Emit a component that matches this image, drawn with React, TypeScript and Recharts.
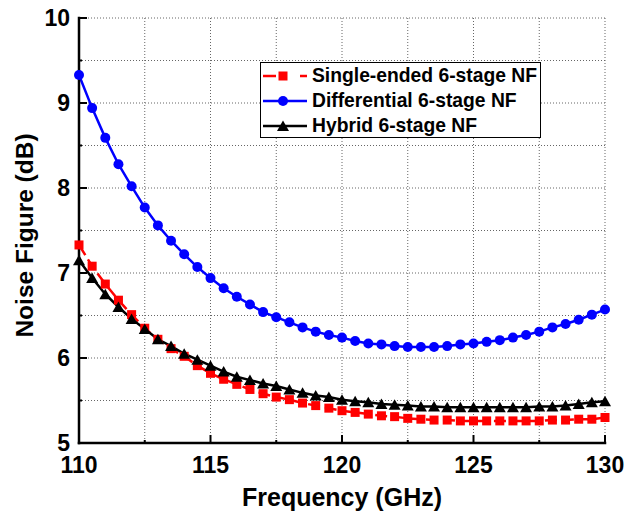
import React from 'react';
import { LineChart, Line, XAxis, YAxis, CartesianGrid, Legend } from 'recharts';

const frequency = [
  110, 110.5, 111, 111.5, 112, 112.5, 113, 113.5, 114, 114.5,
  115, 115.5, 116, 116.5, 117, 117.5, 118, 118.5, 119, 119.5,
  120, 120.5, 121, 121.5, 122, 122.5, 123, 123.5, 124, 124.5,
  125, 125.5, 126, 126.5, 127, 127.5, 128, 128.5, 129, 129.5, 130,
];

const singleEnded = [
  7.33, 7.08, 6.87, 6.68, 6.51, 6.35, 6.22, 6.11, 6.02, 5.91,
  5.82, 5.75, 5.69, 5.63, 5.58, 5.54, 5.51, 5.47, 5.44, 5.41,
  5.38, 5.36, 5.34, 5.32, 5.31, 5.29, 5.28, 5.27, 5.27, 5.26,
  5.26, 5.26, 5.26, 5.26, 5.26, 5.26, 5.27, 5.27, 5.28, 5.28, 5.30,
];

const differential = [
  9.33, 8.94, 8.59, 8.28, 8.02, 7.77, 7.56, 7.38, 7.22, 7.07,
  6.94, 6.82, 6.72, 6.63, 6.54, 6.48, 6.42, 6.36, 6.31, 6.27,
  6.24, 6.20, 6.17, 6.16, 6.14, 6.13, 6.13, 6.13, 6.14, 6.16,
  6.17, 6.19, 6.21, 6.24, 6.27, 6.31, 6.36, 6.40, 6.45, 6.51, 6.57,
];

const hybrid = [
  7.15, 6.94, 6.75, 6.60, 6.46, 6.34, 6.22, 6.14, 6.05, 5.98,
  5.91, 5.84, 5.78, 5.74, 5.70, 5.67, 5.63, 5.59, 5.56, 5.54,
  5.51, 5.49, 5.48, 5.46, 5.45, 5.44, 5.43, 5.43, 5.42, 5.42,
  5.42, 5.42, 5.42, 5.42, 5.42, 5.43, 5.43, 5.44, 5.46, 5.48, 5.49,
];

const xTicks = [110, 112.5, 115, 117.5, 120, 122.5, 125, 127.5, 130];
const yTicks = [5, 5.5, 6, 6.5, 7, 7.5, 8, 8.5, 9, 9.5, 10];

const seriesNames = ['Single-ended 6-stage NF', 'Differential 6-stage NF', 'Hybrid 6-stage NF'];
const xTitle = 'Frequency (GHz)';
const yTitle = 'Noise Figure (dB)';

const data = frequency.map((f, i) => ({
  f,
  se: singleEnded[i],
  diff: differential[i],
  hyb: hybrid[i],
}));

const FONT = '"Liberation Sans", Arial, sans-serif';

const isMajorX = (v: number) => Math.abs(v % 5) < 1e-6;
const isMajorY = (v: number) => Math.abs(v % 1) < 1e-6;

const XTickBottom = (props: any) => {
  const { x, y, payload } = props;
  const major = isMajorX(payload.value);
  return (
    <g>
      <line x1={x} x2={x} y1={y} y2={y - (major ? 8 : 3)} stroke="#000" strokeWidth={2} />
      {major && (
        <text x={x} y={y + 30} textAnchor="middle" fontSize={23} fontWeight="bold" fontFamily={FONT} fill="#000">
          {payload.value}
        </text>
      )}
    </g>
  );
};

const XTickTop = (props: any) => {
  const { x, y, payload } = props;
  const major = isMajorX(payload.value);
  return <line x1={x} x2={x} y1={y} y2={y + (major ? 8 : 3)} stroke="#000" strokeWidth={2} />;
};

const YTickLeft = (props: any) => {
  const { x, y, payload } = props;
  const major = isMajorY(payload.value);
  return (
    <g>
      <line x1={x} x2={x + (major ? 8 : 3)} y1={y} y2={y} stroke="#000" strokeWidth={2} />
      {major && (
        <text x={x - 9} y={y + 8} textAnchor="end" fontSize={23} fontWeight="bold" fontFamily={FONT} fill="#000">
          {payload.value}
        </text>
      )}
    </g>
  );
};

const YTickRight = (props: any) => {
  const { x, y, payload } = props;
  const major = isMajorY(payload.value);
  return <line x1={x} x2={x - (major ? 8 : 3)} y1={y} y2={y} stroke="#000" strokeWidth={2} />;
};

const SquareDot = (props: any) => {
  const { cx, cy } = props;
  if (cx == null || cy == null) return null;
  return <rect x={cx - 4.5} y={cy - 4.5} width={9} height={9} fill="#ff0000" />;
};

const CircleDot = (props: any) => {
  const { cx, cy } = props;
  if (cx == null || cy == null) return null;
  return <circle cx={cx} cy={cy} r={5} fill="#0000ff" />;
};

const TriangleDot = (props: any) => {
  const { cx, cy } = props;
  if (cx == null || cy == null) return null;
  return <polygon points={`${cx},${cy - 5.5} ${cx - 6},${cy + 5} ${cx + 6},${cy + 5}`} fill="#000" />;
};

const LegendBox = () => {
  const rowStyle: React.CSSProperties = {
    display: 'flex',
    alignItems: 'center',
    height: 25,
  };
  const textStyle: React.CSSProperties = {
    fontFamily: FONT,
    fontWeight: 'bold',
    fontSize: 19.3,
    color: '#000',
    whiteSpace: 'nowrap',
    marginLeft: 5,
  };
  return (
    <div
      style={{
        boxSizing: 'border-box',
        width: 281,
        height: 76,
        border: '1.5px solid #000',
        background: '#fff',
        paddingLeft: 2,
        paddingTop: 0,
      }}
    >
      <div style={rowStyle}>
        <svg width={44} height={20}>
          <line x1={0} x2={13} y1={10} y2={10} stroke="#ff0000" strokeWidth={2.5} />
          <rect x={15.5} y={5.5} width={9} height={9} fill="#ff0000" />
          <line x1={37} x2={44} y1={10} y2={10} stroke="#ff0000" strokeWidth={2.5} />
        </svg>
        <span style={textStyle}>{seriesNames[0]}</span>
      </div>
      <div style={rowStyle}>
        <svg width={44} height={20}>
          <line x1={0} x2={44} y1={10} y2={10} stroke="#0000ff" strokeWidth={2.5} />
          <circle cx={20} cy={10} r={5} fill="#0000ff" />
        </svg>
        <span style={textStyle}>{seriesNames[1]}</span>
      </div>
      <div style={rowStyle}>
        <svg width={44} height={20}>
          <line x1={0} x2={44} y1={10} y2={10} stroke="#000" strokeWidth={2.5} />
          <polygon points="20,4.5 14,15 26,15" fill="#000" />
        </svg>
        <span style={textStyle}>{seriesNames[2]}</span>
      </div>
    </div>
  );
};

const axisLine = { stroke: '#000', strokeWidth: 2.5, strokeLinecap: 'square' as const };

export default function App() {
  return (
    <div style={{ position: 'absolute', left: 0, top: 0, width: 628, height: 525, background: '#fff' }}>
      <LineChart
        width={628}
        height={525}
        data={data}
        margin={{ top: 18, right: 23, bottom: 42, left: 0 }}
      >
        <CartesianGrid stroke="#666" strokeDasharray="1 2" strokeWidth={1} />
        <XAxis
          dataKey="f"
          type="number"
          domain={[110, 130]}
          ticks={xTicks}
          interval={0}
          height={40}
          tickSize={0}
          tickMargin={0}
          tickLine={false}
          axisLine={axisLine}
          tick={<XTickBottom />}
          label={{
            content: (p: any) => {
              const vb = p.viewBox || {};
              return (
                <text
                  x={vb.x + vb.width / 2}
                  y={vb.y + 63}
                  textAnchor="middle"
                  fontSize={25}
                  fontWeight="bold"
                  fontFamily={FONT}
                  fill="#000"
                >
                  {xTitle}
                </text>
              );
            },
          }}
        />
        <XAxis
          xAxisId="top"
          orientation="top"
          dataKey="f"
          type="number"
          domain={[110, 130]}
          ticks={xTicks}
          interval={0}
          height={0}
          tickSize={0}
          tickMargin={0}
          tickLine={false}
          axisLine={axisLine}
          tick={<XTickTop />}
        />
        <YAxis
          type="number"
          domain={[5, 10]}
          ticks={yTicks}
          interval={0}
          width={79}
          tickSize={0}
          tickMargin={0}
          tickLine={false}
          axisLine={axisLine}
          tick={<YTickLeft />}
          label={{
            content: (p: any) => {
              const vb = p.viewBox || {};
              const cy = vb.y + vb.height / 2 + 5;
              return (
                <text
                  x={33}
                  y={cy}
                  transform={`rotate(-90, 33, ${cy})`}
                  textAnchor="middle"
                  fontSize={24.5}
                  fontWeight="bold"
                  fontFamily={FONT}
                  fill="#000"
                >
                  {yTitle}
                </text>
              );
            },
          }}
        />
        <YAxis
          yAxisId="right"
          orientation="right"
          type="number"
          domain={[5, 10]}
          ticks={yTicks}
          interval={0}
          width={0}
          tickSize={0}
          tickMargin={0}
          tickLine={false}
          axisLine={axisLine}
          tick={<YTickRight />}
        />
        <Legend
          layout="vertical"
          align="center"
          verticalAlign="middle"
          wrapperStyle={{ left: 260, top: 62, width: 281, height: 76 }}
          content={() => <LegendBox />}
        />
        <Line
          dataKey="se"
          name={seriesNames[0]}
          stroke="#ff0000"
          strokeWidth={2.5}
          strokeDasharray="12 5"
          dot={<SquareDot />}
          activeDot={false}
          isAnimationActive={false}
        />
        <Line
          dataKey="diff"
          name={seriesNames[1]}
          stroke="#0000ff"
          strokeWidth={2.5}
          dot={<CircleDot />}
          activeDot={false}
          isAnimationActive={false}
        />
        <Line
          dataKey="hyb"
          name={seriesNames[2]}
          stroke="#000"
          strokeWidth={2.5}
          dot={<TriangleDot />}
          activeDot={false}
          isAnimationActive={false}
        />
      </LineChart>
    </div>
  );
}
